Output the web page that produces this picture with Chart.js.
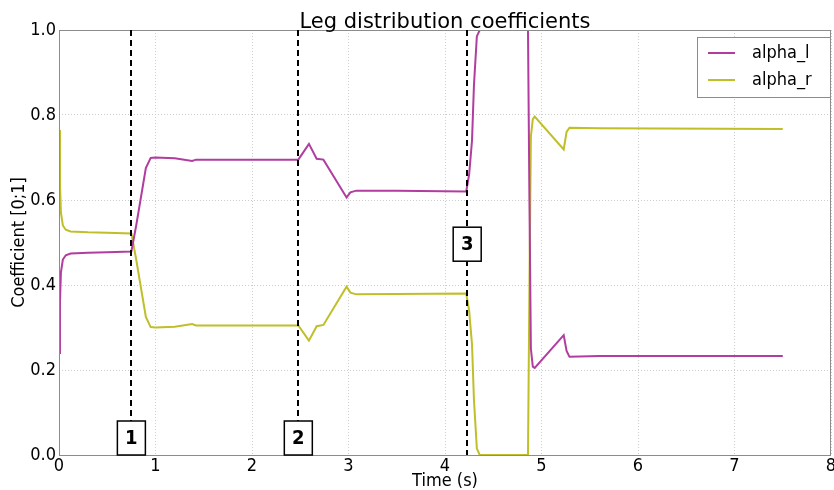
<!DOCTYPE html>
<html>
<head>
<meta charset="utf-8">
<script src="https://cdn.jsdelivr.net/npm/chart.js@4/dist/chart.umd.min.js"></script>
<style>
  html, body { margin: 0; padding: 0; background: #fff; }
  #wrap { width: 834px; height: 490px; }
</style>
</head>
<body>
<div id="wrap"><canvas id="legChart" width="834" height="490"></canvas></div>
<script>
// ─── Data ───────────────────────────────────────────────────────
const TIME = [0, 0.01, 0.02, 0.04, 0.07, 0.12, 0.3, 0.5, 0.75, 0.8, 0.9, 0.95, 1.0, 1.2, 1.38, 1.42, 2.0, 2.48,
  2.59, 2.67, 2.74, 2.98, 3.02, 3.08, 3.5, 4.22, 4.25, 4.28, 4.30, 4.33, 4.36, 4.86, 4.875, 4.89, 4.91, 4.93,
  5.23, 5.26, 5.29, 5.6, 7.5];

const ALPHA_L = [0.24, 0.36, 0.43, 0.46, 0.47, 0.474, 0.476, 0.477, 0.479, 0.54, 0.675, 0.699, 0.700, 0.698, 0.692, 0.695, 0.695, 0.695,
  0.732, 0.697, 0.695, 0.606, 0.618, 0.622, 0.622, 0.620, 0.66, 0.74, 0.87, 0.985, 1.0, 1.0, 0.6, 0.25, 0.208, 0.205,
  0.282, 0.245, 0.231, 0.233, 0.233];

const ALPHA_R = [0.765, 0.64, 0.57, 0.54, 0.53, 0.526, 0.524, 0.523, 0.521, 0.46, 0.325, 0.301, 0.300, 0.302, 0.308, 0.305, 0.305, 0.305,
  0.269, 0.303, 0.306, 0.396, 0.382, 0.378, 0.379, 0.380, 0.34, 0.26, 0.13, 0.015, 0.0, 0.0, 0.4, 0.75, 0.79, 0.796,
  0.719, 0.76, 0.770, 0.769, 0.767];

const EVENT_TIMES = [0.75, 2.48, 4.23];
const EVENT_LABELS = ['1', '2', '3'];
const EVENT_LABEL_Y = [0.04, 0.04, 0.496];

const X_TICKS = [0, 1, 2, 3, 4, 5, 6, 7, 8];
const Y_TICKS = [0, 0.2, 0.4, 0.6, 0.8, 1.0];

const COLORS = { l: '#b03d9f', r: '#bfbf2a' };
const FONT = 'DejaVu Sans';
const NARROW = 'DejaVu Sans Condensed';

const toPoints = ys => TIME.map((t, i) => ({ x: t, y: ys[i] }));

// ─── Overlay: frame, event lines, boxes, title, legend ──────────
const overlay = {
  id: 'overlay',
  afterDatasetsDraw(chart) {
    const { ctx, chartArea: a, scales: { x, y } } = chart;
    ctx.save();

    // frame
    ctx.strokeStyle = '#8c8c8c';
    ctx.lineWidth = 1;
    ctx.strokeRect(a.left + 0.5, a.top + 0.5, a.right - a.left - 1, a.bottom - a.top);

    // dashed event lines
    ctx.strokeStyle = '#000';
    ctx.lineWidth = 2;
    ctx.setLineDash([6, 4]);
    EVENT_TIMES.forEach(t => {
      const px = Math.round(x.getPixelForValue(t));
      ctx.beginPath();
      ctx.moveTo(px, a.top);
      ctx.lineTo(px, a.bottom);
      ctx.stroke();
    });
    ctx.setLineDash([]);

    // numbered boxes
    ctx.font = `bold 20px "${NARROW}"`;
    ctx.textAlign = 'center';
    ctx.textBaseline = 'middle';
    EVENT_TIMES.forEach((t, i) => {
      const cx = x.getPixelForValue(t);
      const cy = y.getPixelForValue(EVENT_LABEL_Y[i]);
      const w = 28, h = 34;
      ctx.fillStyle = '#fff';
      ctx.fillRect(cx - w / 2, cy - h / 2, w, h);
      ctx.lineWidth = 1.5;
      ctx.strokeStyle = '#000';
      ctx.strokeRect(cx - w / 2, cy - h / 2, w, h);
      ctx.fillStyle = '#000';
      ctx.fillText(EVENT_LABELS[i], cx, cy + 1);
    });

    // title
    ctx.font = `21px "${FONT}"`;
    ctx.fillStyle = '#000';
    ctx.textBaseline = 'alphabetic';
    ctx.fillText('Leg distribution coefficients', (a.left + a.right) / 2, 28);

    // legend
    const lx = 697, ly = 37, lw = 133, lh = 60;
    ctx.fillStyle = '#fff';
    ctx.fillRect(lx, ly, lw, lh);
    ctx.strokeStyle = '#8c8c8c';
    ctx.lineWidth = 1;
    ctx.strokeRect(lx + 0.5, ly + 0.5, lw, lh);
    ctx.font = `18px "${NARROW}"`;
    ctx.textAlign = 'left';
    ctx.textBaseline = 'middle';
    chart.data.datasets.forEach((ds, i) => {
      const yy = ly + 16 + i * 27;
      ctx.strokeStyle = ds.borderColor;
      ctx.lineWidth = 2;
      ctx.beginPath();
      ctx.moveTo(lx + 11, yy);
      ctx.lineTo(lx + 38, yy);
      ctx.stroke();
      ctx.fillStyle = '#000';
      ctx.fillText(ds.label, lx + 55, yy);
    });

    ctx.restore();
  }
};

new Chart(document.getElementById('legChart'), {
  type: 'scatter',
  data: {
    datasets: [
      { label: 'alpha_l', data: toPoints(ALPHA_L), borderColor: COLORS.l, backgroundColor: COLORS.l },
      { label: 'alpha_r', data: toPoints(ALPHA_R), borderColor: COLORS.r, backgroundColor: COLORS.r }
    ].map(d => ({ ...d, showLine: true, borderWidth: 2, pointRadius: 0, tension: 0 }))
  },
  options: {
    responsive: false,
    animation: false,
    layout: { padding: { top: 30, right: 3 } },
    plugins: { legend: { display: false }, tooltip: { enabled: false } },
    scales: {
      x: {
        type: 'linear', min: 0, max: 8,
        afterBuildTicks: s => { s.ticks = X_TICKS.map(v => ({ value: v })); },
        afterFit: s => { s.height = 35; s.paddingLeft = 0; s.paddingRight = 0; },
        grid: { color: '#cdcdcd', drawTicks: false },
        border: { display: false, dash: [1, 2] },
        ticks: { color: '#000', font: { family: NARROW, size: 18 }, padding: 1, maxRotation: 0 },
        title: { display: true, text: 'Time (s)', color: '#000', font: { family: NARROW, size: 18 }, padding: { top: 0, bottom: -2 } }
      },
      y: {
        min: 0, max: 1,
        afterBuildTicks: s => { s.ticks = Y_TICKS.map(v => ({ value: v })); },
        afterFit: s => { s.width = 59; },
        grid: { color: '#cdcdcd', drawTicks: false },
        border: { display: false, dash: [1, 2] },
        ticks: { color: '#000', font: { family: NARROW, size: 18 }, padding: 3, callback: v => v.toFixed(1) },
        title: { display: true, text: 'Coefficient [0;1]', color: '#000', font: { family: NARROW, size: 18 }, padding: { top: 9, bottom: 0 } }
      }
    }
  },
  plugins: [overlay]
});
</script>
</body>
</html>
